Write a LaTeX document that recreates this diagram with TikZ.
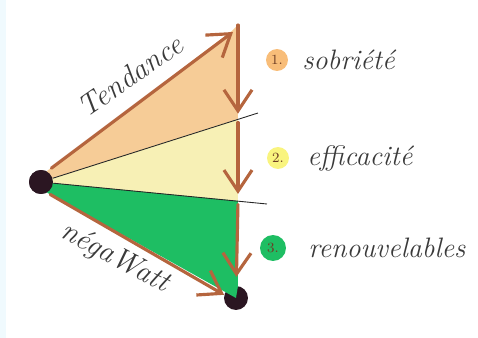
\documentclass[tikz,border=0pt]{standalone}
\usetikzlibrary{arrows.meta,positioning}
\definecolor{brun}{HTML}{B5653E}
\definecolor{peche}{HTML}{F6CC97}
\definecolor{paille}{HTML}{F7F0B5}
\definecolor{vert}{HTML}{1EBE63}
\definecolor{noir}{HTML}{2B1622}
\definecolor{encre}{HTML}{3A3A3A}
\begin{document}
\begin{tikzpicture}[x=0.02cm, y=-0.02cm,
		flow/.style={draw=brun, line width=1.8pt, line cap=round,
				-{Straight Barb[length=12pt, width=16pt, line width=1.8pt]}},
		cut/.style={draw=black!85, line width=0.5pt},
		dot/.style={circle, fill=noir, minimum size=0.48cm, inner sep=0pt},
		num/.style={circle, minimum size=0.44cm, inner sep=0pt, font=\footnotesize, text=brun!60!black},
		lbl/.style={font=\fontsize{16}{18}\selectfont\itshape, text=encre, inner sep=0pt},
		slope/.style={font=\fontsize{17}{19}\selectfont\itshape, text=encre, inner sep=0pt}]
	\useasboundingbox (0,0) rectangle (478,338);
	\fill[cyan!6] (0,0) rectangle (6,338);
	% points
	\node[dot] (src) at (41,182) {};
	\node[dot] (dst) at (236,298) {};
	\coordinate (top) at (238,25);
	\coordinate (cut1) at (238,119);
	\coordinate (cut2) at (238,201);
	\coordinate (l1) at (258,113);
	\coordinate (l2) at (267,204);
	% zones
	\fill[peche] (src.center) -- (47,171) -- (233,30) -- (top) -- (cut1) -- cycle;
	\fill[paille] (src.center) -- (cut1) -- (cut2) -- cycle;
	\fill[vert] (src.center) -- (cut2) -- (238,286) -- (dst.center) -- (src.-60) -- cycle;
	\draw[cut] (src) -- (l1);
	\draw[cut] (src) -- (l2);
	\node[dot] at (src) {};
	% arrows
	\draw[flow, shorten <=3pt] (src.60) -- (233,32);
	\draw[flow, shorten <=2pt] (src.-60) -- (dst.165);
	\draw[flow, shorten >=3pt] (top) -- (cut1);
	\draw[flow, shorten <=2pt, shorten >=4pt] (cut1) -- (cut2);
	\draw[flow, shorten <=2pt, shorten >=5pt] (cut2) -- (dst);
	% labels
	\node[slope, rotate=35] at (130,76) {Tendance};
	\node[slope, rotate=-28] at (115,258) {négaWatt};
	\node[num, fill=peche!80!orange] (n1) at (277,60) {1.};
	\node[num, fill=paille!70!yellow] (n2) at (278,158) {2.};
	\node[num, fill=vert, minimum size=0.52cm] (n3) at (273,248) {3.};
	\node[lbl, right=0.5cm of n1.center, anchor=west] {sobriété};
	\node[lbl, right=0.58cm of n2.center, anchor=west] {efficacité};
	\node[lbl, right=0.7cm of n3.center, anchor=west] {renouvelables};
\end{tikzpicture}
\end{document}
